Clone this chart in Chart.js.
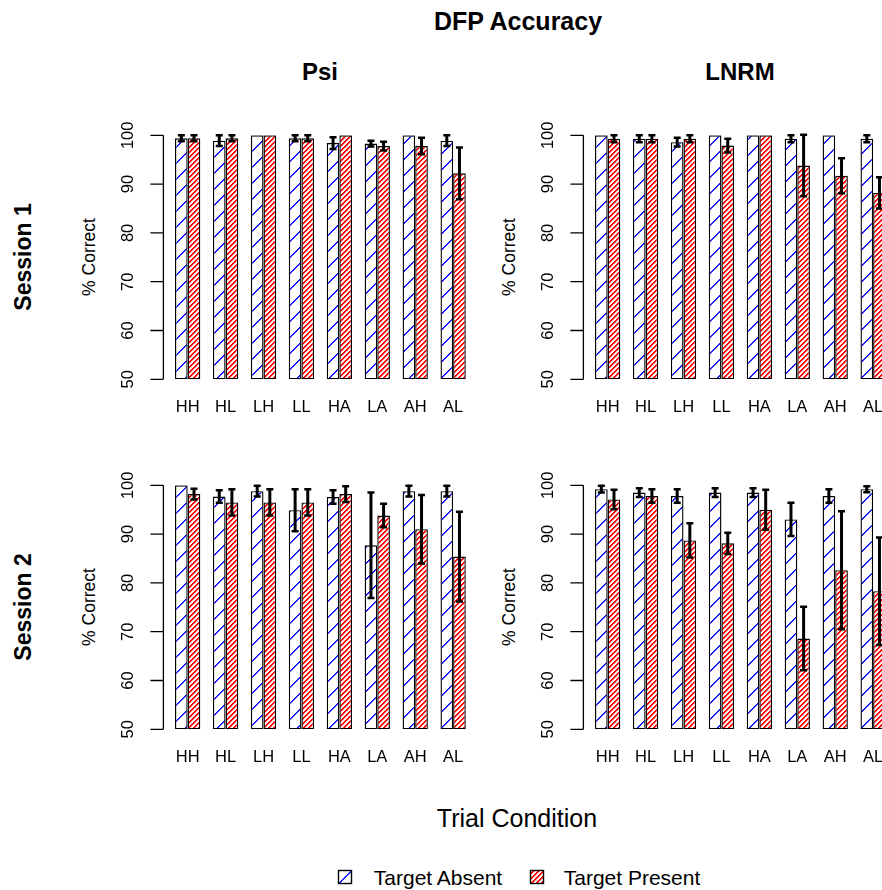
<!DOCTYPE html>
<html>
<head>
<meta charset="utf-8">
<title>DFP Accuracy</title>
<script src="https://cdn.jsdelivr.net/npm/chart.js@4.4.0/dist/chart.umd.min.js"></script>
<style>
  html, body { margin: 0; padding: 0; background: #fff; overflow: hidden; }
  #fig { position: relative; width: 882px; height: 890px; overflow: hidden;
         font-family: "Liberation Sans", Arial, Helvetica, sans-serif; color: #000; }
  .txt { position: absolute; white-space: nowrap; line-height: 1; transform: translate(-50%, -50%); }
  .rot { transform: translate(-50%, -50%) rotate(-90deg); }
  .bold { font-weight: bold; }
  canvas { position: absolute; }
</style>
</head>
<body>
<div id="fig">
  <div class="txt bold" style="left:518px;top:21px;font-size:25px">DFP Accuracy</div>
  <div class="txt bold" style="left:320px;top:72px;font-size:24px">Psi</div>
  <div class="txt bold" style="left:740px;top:72px;font-size:24px">LNRM</div>

  <div class="txt bold rot" style="left:23px;top:257px;font-size:23px">Session 1</div>
  <div class="txt bold rot" style="left:23px;top:607px;font-size:23px">Session 2</div>
  <div class="txt rot" style="left:90px;top:257px;font-size:17.5px">% Correct</div>
  <div class="txt rot" style="left:510px;top:257px;font-size:17.5px">% Correct</div>
  <div class="txt rot" style="left:90px;top:607px;font-size:17.5px">% Correct</div>
  <div class="txt rot" style="left:510px;top:607px;font-size:17.5px">% Correct</div>

  <canvas id="psiS1" width="390" height="320" style="left:100px;top:110px"></canvas>
  <canvas id="lnrmS1" width="390" height="320" style="left:520px;top:110px"></canvas>
  <canvas id="psiS2" width="390" height="320" style="left:100px;top:460px"></canvas>
  <canvas id="lnrmS2" width="390" height="320" style="left:520px;top:460px"></canvas>

  <div class="txt" style="left:517px;top:818px;font-size:25px">Trial Condition</div>

  <canvas id="keyAbsent" width="16" height="16" style="left:337px;top:869px"></canvas>
  <div class="txt" style="left:438px;top:877px;font-size:21px">Target Absent</div>
  <canvas id="keyPresent" width="16" height="16" style="left:529px;top:869px"></canvas>
  <div class="txt" style="left:632px;top:877px;font-size:21px">Target Present</div>
</div>

<script>
var conditions = ["HH", "HL", "LH", "LL", "HA", "LA", "AH", "AL"];
var yTicks = [50, 60, 70, 80, 90, 100];

// Session 1, Psi
var psiS1Absent = [99.4, 98.9, 100, 99.4, 98.4, 98.3, 100, 98.9];
var psiS1AbsentErr = [0.6, 1.1, 0, 0.6, 1.2, 0.6, 0, 1.1];
var psiS1Present = [99.4, 99.4, 100, 99.4, 100, 97.8, 97.8, 92.2];
var psiS1PresentErr = [0.6, 0.6, 0, 0.6, 0, 0.9, 1.7, 5.3];

// Session 1, LNRM
var lnrmS1Absent = [100, 99.3, 98.6, 100, 100, 99.3, 100, 99.3];
var lnrmS1AbsentErr = [0, 0.7, 0.9, 0, 0, 0.7, 0, 0.7];
var lnrmS1Present = [99.3, 99.3, 99.3, 97.9, 100, 93.8, 91.7, 88.2];
var lnrmS1PresentErr = [0.7, 0.7, 0.7, 1.4, 0, 6.3, 3.6, 3.2];

// Session 2, Psi
var psiS2Absent = [100, 97.7, 98.8, 94.9, 97.6, 87.7, 98.8, 98.8];
var psiS2AbsentErr = [0, 1.3, 1.1, 4.3, 1.4, 10.8, 1.1, 1.1];
var psiS2Present = [98.2, 96.5, 96.5, 96.5, 98.2, 93.8, 91.0, 85.4];
var psiS2PresentErr = [1.1, 2.7, 2.7, 2.7, 1.6, 2.4, 7.0, 9.2];

// Session 2, LNRM
var lnrmS2Absent = [99.2, 98.5, 97.8, 98.5, 98.5, 93.0, 97.8, 99.2];
var lnrmS2AbsentErr = [0.7, 0.9, 1.4, 0.9, 0.9, 3.4, 1.4, 0.6];
var lnrmS2Present = [97.1, 97.8, 88.7, 88.1, 95.0, 68.6, 82.6, 78.3];
var lnrmS2PresentErr = [2.0, 1.4, 3.5, 2.2, 4.1, 6.5, 12.1, 11.0];

var FONT = "'Liberation Sans', Arial, Helvetica, sans-serif";

// pixel "/" hatching: weights[k] is the ink coverage at (x + y) % period == k
function hatch(ctx, rgb, period, weights) {
  var c = document.createElement("canvas");
  c.width = period;
  c.height = period;
  var g = c.getContext("2d");
  var img = g.createImageData(period, period);
  for (var py = 0; py < period; py++) {
    for (var px = 0; px < period; px++) {
      var w = weights[(px + py) % period] || 0;
      var o = (py * period + px) * 4;
      img.data[o] = Math.round(255 + (rgb[0] - 255) * w);
      img.data[o + 1] = Math.round(255 + (rgb[1] - 255) * w);
      img.data[o + 2] = Math.round(255 + (rgb[2] - 255) * w);
      img.data[o + 3] = 255;
    }
  }
  g.putImageData(img, 0, 0);
  return ctx.createPattern(c, "repeat");
}

function blueHatch(ctx) { return hatch(ctx, [0, 0, 255], 16, [1, 0.8]); }
function redHatch(ctx) { return hatch(ctx, [255, 0, 0], 5, [1, 1, 0.3]); }

// error bars with flat caps
var errorBars = {
  id: "errorBars",
  afterDatasetsDraw: function (chart) {
    var ctx = chart.ctx;
    var y = chart.scales.y;
    chart.data.datasets.forEach(function (ds, i) {
      var meta = chart.getDatasetMeta(i);
      meta.data.forEach(function (bar, j) {
        var e = ds.errors[j];
        if (!e) return;
        var top = y.getPixelForValue(ds.data[j] + e);
        var bot = y.getPixelForValue(ds.data[j] - e);
        ctx.save();
        ctx.strokeStyle = "#000";
        ctx.lineWidth = 3;
        ctx.beginPath();
        ctx.moveTo(bar.x, top);
        ctx.lineTo(bar.x, bot);
        ctx.stroke();
        ctx.lineWidth = 2.5;
        ctx.beginPath();
        ctx.moveTo(bar.x - 3.5, top); ctx.lineTo(bar.x + 3.5, top);
        ctx.moveTo(bar.x - 3.5, bot); ctx.lineTo(bar.x + 3.5, bot);
        ctx.stroke();
        ctx.restore();
      });
    });
  }
};

// base-graphics style axis: offset y axis with outward ticks, rotated labels
var rAxes = {
  id: "rAxes",
  afterDraw: function (chart) {
    var ctx = chart.ctx;
    var x = chart.scales.x;
    var y = chart.scales.y;
    var unit = (x.getPixelForValue(1) - x.getPixelForValue(0)) / 3;
    var axisX = chart.chartArea.left - 0.42 * unit;
    ctx.save();
    ctx.strokeStyle = "#000";
    ctx.lineWidth = 1.3;
    ctx.beginPath();
    ctx.moveTo(axisX, y.getPixelForValue(yTicks[0]));
    ctx.lineTo(axisX, y.getPixelForValue(yTicks[yTicks.length - 1]));
    yTicks.forEach(function (t) {
      var py = y.getPixelForValue(t);
      ctx.moveTo(axisX - 13, py);
      ctx.lineTo(axisX, py);
    });
    ctx.stroke();

    ctx.fillStyle = "#000";
    ctx.font = "16.5px " + FONT;
    ctx.textAlign = "center";
    ctx.textBaseline = "middle";
    yTicks.forEach(function (t) {
      ctx.save();
      ctx.translate(axisX - 35, y.getPixelForValue(t));
      ctx.rotate(-Math.PI / 2);
      ctx.fillText(String(t), 0, 0);
      ctx.restore();
    });
    conditions.forEach(function (c, i) {
      ctx.fillText(c, x.getPixelForValue(i), chart.chartArea.bottom + 28);
    });
    ctx.restore();
  }
};

function makePanel(id, absent, absentErr, present, presentErr) {
  var canvas = document.getElementById(id);
  var ctx = canvas.getContext("2d");
  var barStyle = {
    borderColor: "#000",
    borderWidth: 1.4,
    borderSkipped: false,
    base: 50,
    categoryPercentage: 2 / 3,
    barPercentage: 1
  };
  return new Chart(ctx, {
    type: "bar",
    data: {
      labels: conditions,
      datasets: [
        Object.assign({ label: "Target Absent", data: absent, errors: absentErr,
          backgroundColor: blueHatch(ctx) }, barStyle),
        Object.assign({ label: "Target Present", data: present, errors: presentErr,
          backgroundColor: redHatch(ctx) }, barStyle)
      ]
    },
    options: {
      responsive: false,
      animation: false,
      layout: { padding: { left: 68.7, right: 17.9, top: 25.3, bottom: 50.7 } },
      plugins: { legend: { display: false }, tooltip: { enabled: false } },
      scales: {
        x: { display: false },
        y: { display: false, min: yTicks[0], max: yTicks[yTicks.length - 1] }
      }
    },
    plugins: [errorBars, rAxes]
  });
}

makePanel("psiS1", psiS1Absent, psiS1AbsentErr, psiS1Present, psiS1PresentErr);
makePanel("lnrmS1", lnrmS1Absent, lnrmS1AbsentErr, lnrmS1Present, lnrmS1PresentErr);
makePanel("psiS2", psiS2Absent, psiS2AbsentErr, psiS2Present, psiS2PresentErr);
makePanel("lnrmS2", lnrmS2Absent, lnrmS2AbsentErr, lnrmS2Present, lnrmS2PresentErr);

// legend keys
function drawKey(id, patternFn) {
  var ctx = document.getElementById(id).getContext("2d");
  ctx.fillStyle = patternFn(ctx);
  ctx.fillRect(1, 1, 14, 14);
  ctx.strokeStyle = "#000";
  ctx.lineWidth = 1.4;
  ctx.strokeRect(1.5, 1.5, 13, 13);
}
drawKey("keyAbsent", function (ctx) { return hatch(ctx, [0, 0, 255], 15, [1, 0.8]); });
drawKey("keyPresent", redHatch);
</script>
</body>
</html>
